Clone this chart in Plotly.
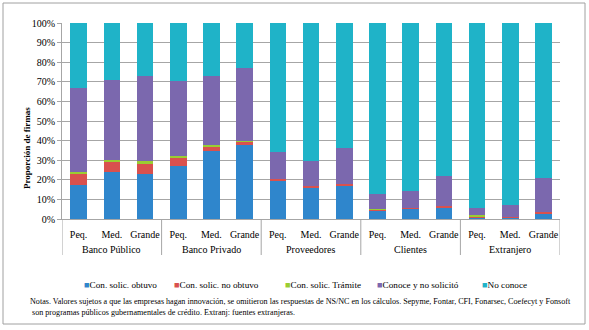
import plotly.graph_objects as go

group_names = ["Banco Público", "Banco Privado", "Proveedores", "Clientes", "Extranjero"]
sizes = ["Peq.", "Med.", "Grande"] * 5

obtuvo =      [17.5, 24.0, 23.0, 27.0, 34.5, 37.8, 19.8, 16.3, 17.3, 4.2, 5.2, 6.0, 0.8, 0.7, 2.9]
no_obtuvo =   [5.5, 5.3, 5.0, 4.3, 2.6, 1.8, 0.7, 0.5, 0.7, 0.5, 0.2, 0.7, 0.5, 0.2, 0.5]
tramite =     [1.0, 1.0, 1.7, 0.8, 0.8, 0.3, 0.0, 0.0, 0.0, 0.2, 0.0, 0.0, 0.5, 0.0, 0.0]
no_solicito = [43.0, 40.5, 43.4, 38.5, 35.0, 37.3, 13.8, 13.0, 18.4, 8.1, 9.0, 15.2, 4.0, 6.0, 17.5]
no_conoce =   [33.0, 29.2, 26.9, 29.4, 27.1, 22.8, 65.7, 70.2, 63.6, 87.0, 85.6, 78.1, 94.2, 93.1, 79.1]

series = [
    ("Con. solic. obtuvo", obtuvo, "#2F86CC"),
    ("Con. solic. no obtuvo", no_obtuvo, "#D9514E"),
    ("Con. solic. Trámite", tramite, "#9ACD32"),
    ("Conoce y no solicitó", no_solicito, "#7B68AE"),
    ("No conoce", no_conoce, "#1FB3C8"),
]

SERIF = "Liberation Serif"
xpos = list(range(len(sizes)))

fig = go.Figure()
for name, vals, col in series:
    fig.add_trace(go.Bar(x=xpos, y=vals, name=name, marker_color=col,
                         marker_line_width=0, showlegend=False))

L, R, T, B = 62, 29, 23, 111
W, H = 589, 330
pw, ph = W - L - R, H - T - B

def px_x(x):
    return (x - L) / pw

def px_y(y):
    return (T + ph - y) / ph

fig.update_layout(
    width=W, height=H, barmode="stack", bargap=0.5,
    margin=dict(l=L, r=R, t=T, b=B, autoexpand=False),
    paper_bgcolor="white", plot_bgcolor="white",
    font=dict(family=SERIF, size=10, color="black"),
    showlegend=False,
)
fig.update_yaxes(range=[0, 100], dtick=10, ticksuffix="%", showgrid=True,
                 gridcolor="#A6A6A6", gridwidth=1, showline=True,
                 linecolor="#A6A6A6", tickfont=dict(family=SERIF, size=10),
                 ticks="outside", ticklen=4, tickcolor="#A6A6A6", zeroline=False,
                 automargin=False)
fig.update_xaxes(range=[-0.5, len(sizes) - 0.5], tickvals=xpos, ticktext=sizes,
                 showline=True, linecolor="#A6A6A6", showgrid=False, zeroline=False,
                 tickfont=dict(family=SERIF, size=10), ticks="", tickangle=0,
                 ticklabelstandoff=6, automargin=False)

# group labels and dividers
for i, g in enumerate(group_names):
    fig.add_annotation(text=g, xref="x", yref="paper", x=3 * i + 1, y=px_y(249),
                       yanchor="middle", showarrow=False, font=dict(family=SERIF, size=10))
for d in range(0, len(sizes) + 1, 3):
    fig.add_shape(type="line", xref="x", yref="paper", x0=d - 0.5, x1=d - 0.5,
                  y0=0, y1=px_y(255), line=dict(color="#A6A6A6", width=1))

fig.add_annotation(text="<b>Proporción de firmas</b>", textangle=-90,
                   xref="paper", yref="paper", x=px_x(20), y=px_y(148),
                   showarrow=False, font=dict(family=SERIF, size=9))

# legend (manual, positioned like the reference)
leg_x = [82, 172, 283, 375, 480]
for (name, vals, col), lx in zip(series, leg_x):
    fig.add_annotation(
        text=f'<span style="color:{col}">■</span>{name}',
        xref="paper", yref="paper", x=px_x(lx), y=px_y(285),
        xanchor="left", yanchor="middle", showarrow=False,
        font=dict(family=SERIF, size=9.2))

fig.add_annotation(
    text="Notas. Valores sujetos a que las empresas hagan innovación, se omitieron las respuestas de NS/NC en los cálculos. Sepyme, Fontar, CFI, Fonarsec, Coefecyt y Fonsoft<br> son programas públicos gubernamentales de crédito. Extranj: fuentes extranjeras.",
    xref="paper", yref="paper", x=px_x(28), y=px_y(295),
    xanchor="left", yanchor="top", align="left", showarrow=False,
    font=dict(family=SERIF, size=8.1))

fig.add_shape(type="rect", xref="paper", yref="paper",
              x0=px_x(3), x1=px_x(585), y0=px_y(324), y1=px_y(3),
              line=dict(color="#A0A0A0", width=1), fillcolor="rgba(0,0,0,0)", layer="below")

fig.write_html("out.html", config={"displayModeBar": False},
               post_script="document.body.style.margin='0';")
